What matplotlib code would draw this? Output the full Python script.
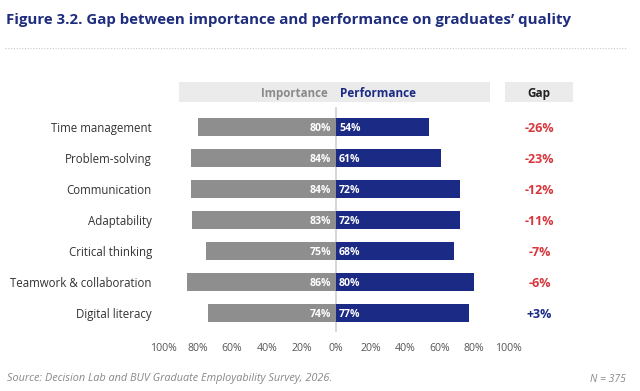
import matplotlib
matplotlib.use("Agg")
import matplotlib.pyplot as plt
from matplotlib.patches import Rectangle

categories = ["Time management", "Problem-solving", "Communication", "Adaptability",
              "Critical thinking", "Teamwork & collaboration", "Digital literacy"]
importance = [80, 84, 84, 83, 75, 86, 74]
performance = [54, 61, 72, 72, 68, 80, 77]
gap = [-26, -23, -12, -11, -7, -6, 3]
tick_values = [-100, -80, -60, -40, -20, 0, 20, 40, 60, 80, 100]
tick_labels = ["100%", "80%", "60%", "40%", "20%", "0%", "20%", "40%", "60%", "80%", "100%"]

title = "Figure 3.2. Gap between importance and performance on graduates\u2019 quality"
source = "Source: Decision Lab and BUV Graduate Employability Survey, 2026."
n_text = "N = 375"

NAVY = "#1b2a85"
GRAY = "#8e8e8e"
BAND = "#ebebeb"
RED = "#d8363d"
TITLE = "#1e2d7d"
FONT = "Open Sans"

W, H = 640, 391
fig = plt.figure(figsize=(W / 100, H / 100), dpi=100)
fig.patch.set_facecolor("white")

# axes placement in pixels
x0, x1 = 163, 578
ytop, ybot = 80, 333
ax = fig.add_axes([x0 / W, 1 - ybot / H, (x1 - x0) / W, (ybot - ytop) / H])
ax.set_xlim(-100, 140)
ypos = list(range(len(categories)))
ax.set_ylim(6.645, -1.516)
for s in ax.spines.values():
    s.set_visible(False)

# header bands
ax.add_patch(Rectangle((-90.8, -1.452), 179.8, 0.646, facecolor=BAND, edgecolor="none", clip_on=False))
ax.add_patch(Rectangle((97.7, -1.452), 39.3, 0.646, facecolor=BAND, edgecolor="none", clip_on=False))
hy = -1.13
ax.text(-4.6, hy, "Importance", ha="right", va="center_baseline", fontsize=8.3, fontweight="bold",
        color="#8a8a8a", family=FONT)
ax.text(2.3, hy, "Performance", ha="left", va="center_baseline", fontsize=8.5, fontweight="bold",
        color=NAVY, family=FONT)
ax.text(117.3, hy, "Gap", ha="center", va="center_baseline", fontsize=8.5, fontweight="bold",
        color="#222222", family=FONT)

# center line
ax.plot([0, 0], [-0.613, 6.58], color="#cfcfcf", lw=1.2, zorder=1)

bh = 0.61
ax.barh(ypos, [-v for v in importance], height=bh, color=GRAY, zorder=2)
ax.barh(ypos, performance, height=bh, color=NAVY, zorder=2)

for y, imp, perf, g in zip(ypos, importance, performance, gap):
    ax.text(-2.6, y, f"{imp}%", ha="right", va="center_baseline", fontsize=7.6, fontweight="bold",
            color="white", family=FONT, zorder=3)
    ax.text(1.8, y, f"{perf}%", ha="left", va="center_baseline", fontsize=7.6, fontweight="bold",
            color="white", family=FONT, zorder=3)
    gtxt = f"{g:+d}%"
    ax.text(117.8, y, gtxt, ha="center", va="center_baseline", fontsize=9, fontweight="bold",
            color=RED if g < 0 else NAVY, family=FONT)

ax.set_yticks(ypos)
ax.set_yticklabels(categories, fontsize=8.3, color="#333333", family=FONT)
ax.tick_params(axis="y", length=0, pad=8)
ax.set_xticks(tick_values)
ax.set_xticklabels(tick_labels, fontsize=7.6, color="#555555", family=FONT)
ax.tick_params(axis="x", length=0, pad=7.5)

# title, rule, footer
fig.text(6 / W, 1 - 20 / H, title, ha="left", va="center", fontsize=10.8, fontweight="bold",
         color=TITLE, family=FONT)
fig.add_artist(plt.Line2D([5 / W, 627 / W], [1 - 48 / H, 1 - 48 / H], color="#c8c8c8",
                          lw=0.8, linestyle=(0, (1, 1.5))))
fig.text(7 / W, 1 - 379 / H, source, ha="left", va="center", fontsize=7.8, style="italic",
         color="#888888", family=FONT)
fig.text(626 / W, 1 - 379 / H, n_text, ha="right", va="center", fontsize=7.5, style="italic",
         color="#888888", family=FONT)

fig.savefig("out.png", dpi=100, facecolor="white")
